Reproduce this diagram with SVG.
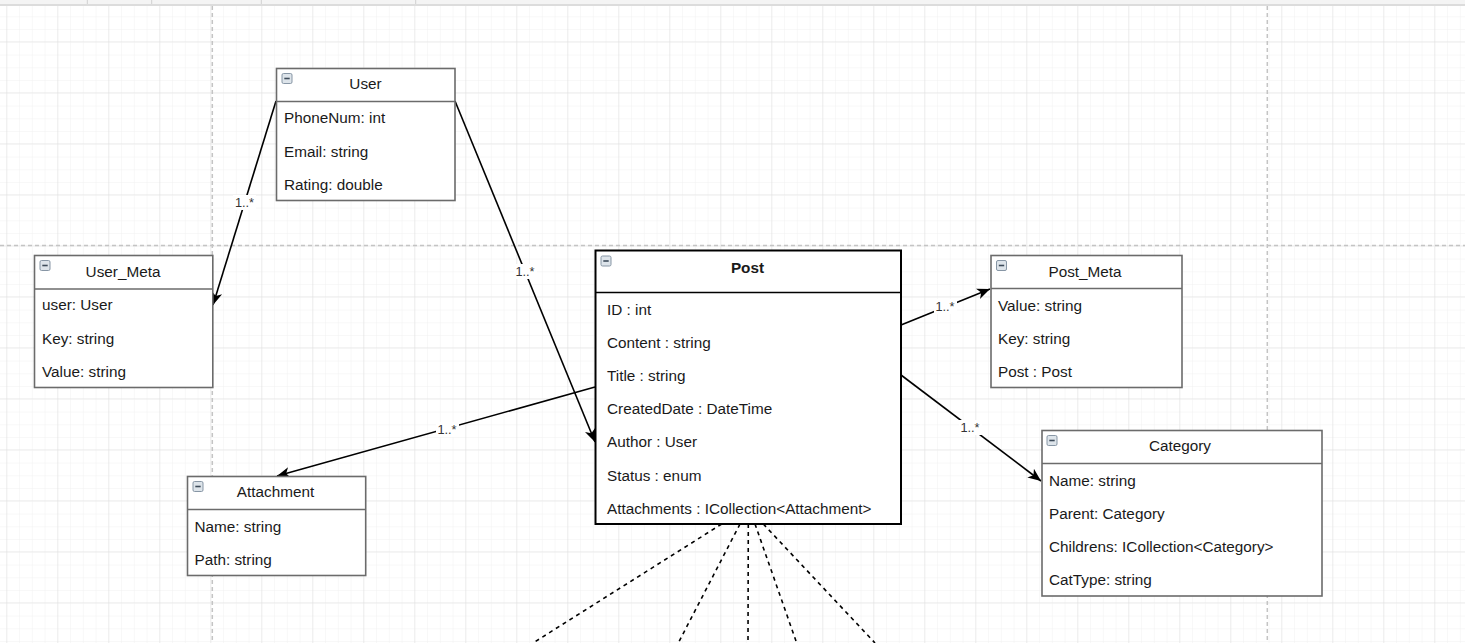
<svg xmlns="http://www.w3.org/2000/svg" width="1465" height="643" viewBox="0 0 1465 643">
<style>
.box{fill:#ffffff;stroke:#6b6b6b;stroke-width:1.6}
.boxb{fill:#ffffff;stroke:#000000;stroke-width:2}
.div{stroke:#6b6b6b;stroke-width:1.6}
.divb{stroke:#000000;stroke-width:1.6}
.t{font-family:"Liberation Sans",Arial,sans-serif;font-size:15.3px;fill:#1a1a1a;dominant-baseline:central}
.title{text-anchor:middle}
.bold{font-weight:bold}
.edge{fill:none;stroke:#000000;stroke-width:1.6}
.dash{fill:none;stroke:#000000;stroke-width:1.6;stroke-dasharray:4 4}
.lbl{font-family:"Liberation Sans",Arial,sans-serif;font-size:12.75px;fill:#333333;text-anchor:middle;dominant-baseline:central}
.lblbg{fill:#ffffff}
.pb{fill:none;stroke:#c4c4c4;stroke-width:1.5;stroke-dasharray:4 3}
</style>
<defs>
<pattern id="minor" x="6.3" y="3.55" width="12.75" height="12.75" patternUnits="userSpaceOnUse">
<path d="M0,0 L12.75,0 M0,0 L0,12.75" fill="none" stroke="#f1f1f1" stroke-width="1"/>
</pattern>
<pattern id="major" x="6.3" y="41.3" width="51" height="51" patternUnits="userSpaceOnUse">
<path d="M0,0 L51,0 M0,0 L0,51" fill="none" stroke="#e0e0e0" stroke-width="1"/>
</pattern>
<marker id="arr" markerUnits="userSpaceOnUse" markerWidth="14" markerHeight="12" viewBox="0 0 14 12" refX="13" refY="6" orient="auto">
<path d="M0,0.5 L13,6 L0,11.5 L3.5,6 Z" fill="#000000"/>
</marker>
<g id="icon">
<rect x="0" y="0" width="10" height="10" rx="1.5" fill="#dde4ea" stroke="#8796a5" stroke-width="1"/>
<path d="M2.3,5 L7.7,5" stroke="#3e4c5a" stroke-width="1.6"/>
</g>
</defs>
<rect x="0" y="0" width="1465" height="643" fill="#ffffff"/>
<rect x="0" y="6" width="1465" height="637" fill="url(#minor)"/>
<rect x="0" y="6" width="1465" height="637" fill="url(#major)"/>
<rect x="0" y="0" width="1465" height="4.5" fill="#f4f4f4"/>
<rect x="0" y="4" width="1465" height="2" fill="#dcdcdc"/>
<path d="M87.3,0 V4 M151.7,0 V4 M261.3,0 V4 M415.7,0 V4" stroke="#d0d0d0" stroke-width="1"/>
<g id="pagebreaks">
<path class="pb" d="M212.3,6 V643"/>
<path class="pb" d="M1267.3,6 V643"/>
<path class="pb" d="M0,245.5 H1465"/>
</g>
<g id="connectors">
<path class="edge" d="M276,101 L213,305" marker-end="url(#arr)"/>
<path class="edge" d="M455,101 L595,442" marker-end="url(#arr)"/>
<path class="edge" d="M595,387 L277,476" marker-end="url(#arr)"/>
<path class="edge" d="M901,325 L990,289" marker-end="url(#arr)"/>
<path class="edge" d="M901,375 L1041,481" marker-end="url(#arr)"/>
<path class="dash" d="M721.7,524 L533,643"/>
<path class="dash" d="M740,524 L678.3,643"/>
<path class="dash" d="M748.3,524 L748,643"/>
<path class="dash" d="M755,524 L796.7,643"/>
<path class="dash" d="M763.3,524 L875,643"/>
<rect class="lblbg" x="233" y="195" width="23" height="15"/>
<text class="lbl" x="244.5" y="202.5">1..*</text>
<rect class="lblbg" x="514" y="264" width="23" height="15"/>
<text class="lbl" x="525" y="271.5">1..*</text>
<rect class="lblbg" x="436" y="422" width="23" height="15"/>
<text class="lbl" x="447" y="429">1..*</text>
<rect class="lblbg" x="934" y="299" width="23" height="15"/>
<text class="lbl" x="945" y="306">1..*</text>
<rect class="lblbg" x="959" y="420" width="23" height="15"/>
<text class="lbl" x="970" y="427">1..*</text>
</g>
<g id="User">
<rect class="box" x="276.5" y="68.5" width="178.5" height="132"/>
<path class="div" d="M276.5,101.5 H455"/>
<use href="#icon" x="282" y="73.5"/>
<text class="t title" x="365.5" y="83.7">User</text>
<text class="t" x="284" y="117.7">PhoneNum: int</text>
<text class="t" x="284" y="151.2">Email: string</text>
<text class="t" x="284" y="184.2">Rating: double</text>
</g>
<g id="User_Meta">
<rect class="box" x="34.5" y="255.5" width="178.3" height="132"/>
<path class="div" d="M34.5,289 H212.8"/>
<use href="#icon" x="40" y="260.5"/>
<text class="t title" x="123" y="271.2">User_Meta</text>
<text class="t" x="42" y="304.7">user: User</text>
<text class="t" x="42" y="338.2">Key: string</text>
<text class="t" x="42" y="371.2">Value: string</text>
</g>
<g id="Post">
<rect class="boxb" x="595.5" y="250.5" width="305.5" height="273.5"/>
<path class="divb" d="M595.5,292.5 H901"/>
<use href="#icon" x="601" y="256"/>
<text class="t title bold" x="747.5" y="267.2">Post</text>
<text class="t" x="607" y="309.2">ID : int</text>
<text class="t" x="607" y="342.2">Content : string</text>
<text class="t" x="607" y="375.2">Title : string</text>
<text class="t" x="607" y="408.2">CreatedDate : DateTime</text>
<text class="t" x="607" y="441.2">Author : User</text>
<text class="t" x="607" y="475.2">Status : enum</text>
<text class="t" x="607" y="508.2">Attachments : ICollection&lt;Attachment&gt;</text>
</g>
<g id="Post_Meta">
<rect class="box" x="991" y="255.5" width="191" height="132"/>
<path class="div" d="M991,288.5 H1182"/>
<use href="#icon" x="996.5" y="260.5"/>
<text class="t title" x="1085" y="271.2">Post_Meta</text>
<text class="t" x="998" y="305.2">Value: string</text>
<text class="t" x="998" y="338.2">Key: string</text>
<text class="t" x="998" y="371.2">Post : Post</text>
</g>
<g id="Category">
<rect class="box" x="1042" y="430.5" width="280" height="165.5"/>
<path class="div" d="M1042,463.5 H1322"/>
<use href="#icon" x="1047" y="435.5"/>
<text class="t title" x="1180" y="445.2">Category</text>
<text class="t" x="1049" y="480.2">Name: string</text>
<text class="t" x="1049" y="513.2">Parent: Category</text>
<text class="t" x="1049" y="546.2">Childrens: ICollection&lt;Category&gt;</text>
<text class="t" x="1049" y="579.2">CatType: string</text>
</g>
<g id="Attachment">
<rect class="box" x="187.5" y="476.5" width="178.2" height="99"/>
<path class="div" d="M187.5,509.5 H365.7"/>
<use href="#icon" x="193" y="481.5"/>
<text class="t title" x="275.5" y="491.2">Attachment</text>
<text class="t" x="194.5" y="526.2">Name: string</text>
<text class="t" x="194.5" y="559.2">Path: string</text>
</g>
</svg>
